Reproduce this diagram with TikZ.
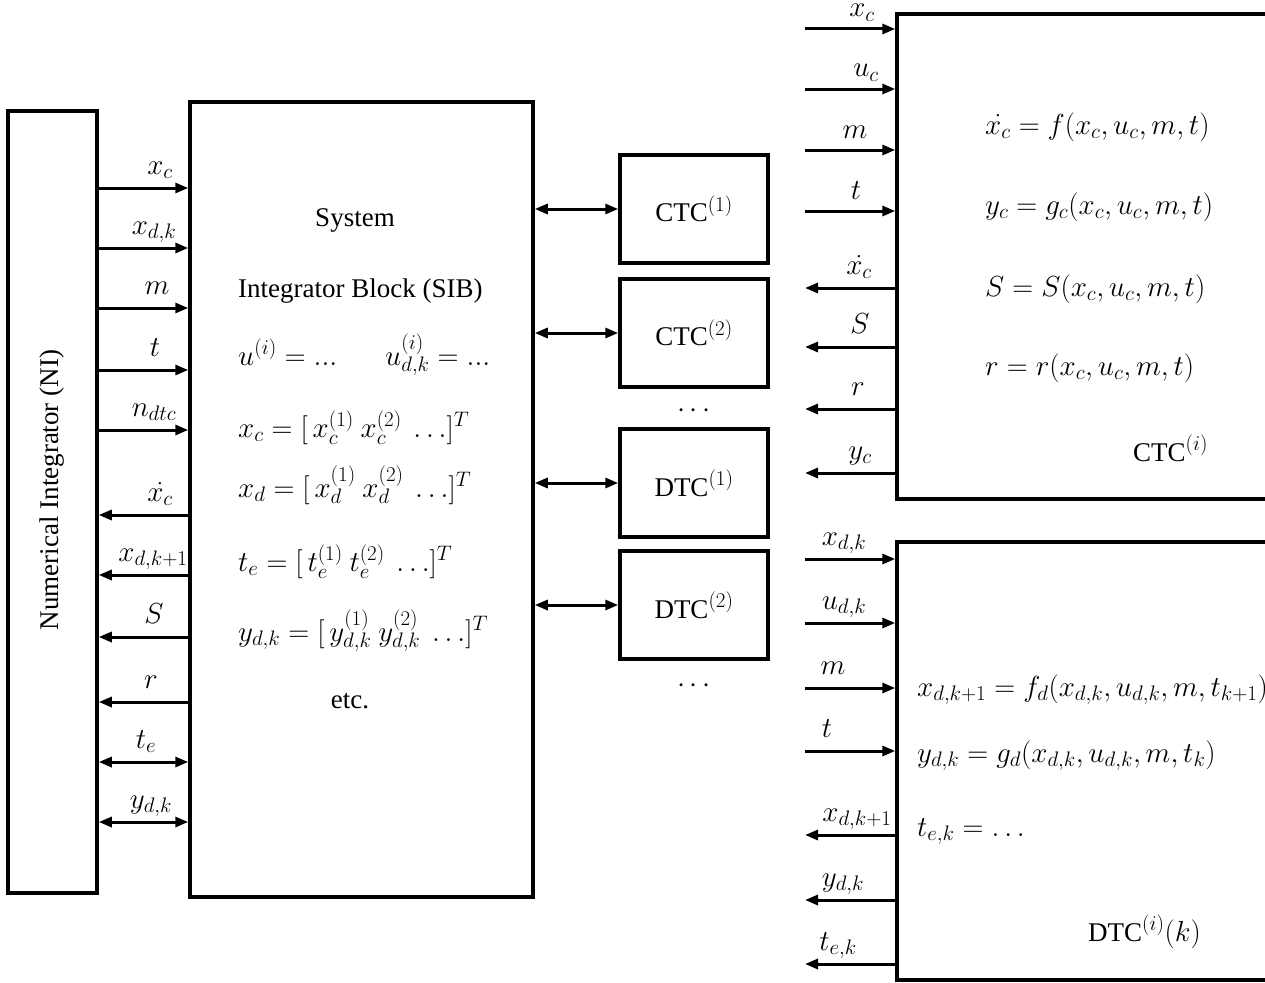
\RequirePackage{fix-cm}
\documentclass[tikz,border=0pt]{standalone}
\usepackage[no-math]{fontspec}
\setmainfont{Liberation Serif}
\DeclareMathSizes{27}{29}{21}{16}
\usetikzlibrary{arrows.meta}
\begin{document}
\begin{tikzpicture}[x=1pt,y=-1pt,
  every node/.style={font=\fontsize{27}{32}\selectfont},
  blk/.style={draw,line width=3.5pt,inner sep=0pt},
  sig/.style={line width=3pt,-{Triangle[length=13pt,width=10pt]}},
  bsig/.style={line width=3pt,{Triangle[length=13pt,width=10pt]}-{Triangle[length=13pt,width=10pt]}},
  lab/.style={anchor=base,inner sep=0pt},
  eq/.style={anchor=base west,inner sep=0pt}]
\useasboundingbox (0,0) rectangle (1265,982);
\clip (0,0) rectangle (1265,982);
% blocks
\node[blk,minimum width=89pt,minimum height=782pt] (ni) at (52.5,502) {};
\node[rotate=90] (nitxt) at (52.5,490) {Numerical Integrator (NI)};
\node[blk,minimum width=343pt,minimum height=795pt] (sib) at (361.5,499.5) {};
\node[blk,minimum width=148pt,minimum height=108pt] (c1) at (694,209) {CTC$^{(1)}$};
\node[blk,minimum width=148pt,minimum height=108pt] (c2) at (694,333) {CTC$^{(2)}$};
\node (dots1) at (694,411) {$\cdots$};
\node[blk,minimum width=148pt,minimum height=108pt] (d1) at (694,483) {DTC$^{(1)}$};
\node[blk,minimum width=148pt,minimum height=108pt] (d2) at (694,605) {DTC$^{(2)}$};
\node (dots2) at (694,686) {$\cdots$};
\node[blk,minimum width=420pt,minimum height=485pt] (rc) at (1107,256.5) {};
\node[blk,minimum width=420pt,minimum height=438pt] (rd) at (1107,761) {};
\coordinate (rin) at (805,0);
% SIB text
\node[lab] (s1) at (355,226) {System};
\node[eq] (s2) at (238,297) {Integrator Block (SIB)};
\node[eq] (s3) at (238,365) {$u^{(i)}=...$};
\node[eq] (s3b) at (385,365) {$u^{(i)}_{d,k}=...$};
\node[eq] (s4) at (238,437) {$x_c=[\,x_c^{(1)}\ x_c^{(2)}\ \ldots]^T$};
\node[eq] (s5) at (238,497) {$x_d=[\,x_d^{(1)}\ x_d^{(2)}\ \ldots]^T$};
\node[eq] (s6) at (238,571) {$t_e=[\,t_e^{(1)}\ t_e^{(2)}\ \ldots]^T$};
\node[eq] (s7) at (238,641) {$y_{d,k}=[\,y_{d,k}^{(1)}\ y_{d,k}^{(2)}\ \ldots]^T$};
\node[lab] (s8) at (350,708) {etc.};
% NI <-> SIB
\foreach \y/\t/\lx in {188/x_c/160,248/x_{d,k}/154,308/m/157,370/t/155,430/n_{dtc}/154}{
  \draw[sig] (ni.east |- 0,\y) -- (sib.west |- 0,\y);
  \node[lab] at (\lx,\y-14) {$\t$};}
\foreach \y/\t/\lx in {515/\dot{x_c}/160,575/x_{d,k+1}/153,637/S/154,702/r/151}{
  \draw[sig] (sib.west |- 0,\y) -- (ni.east |- 0,\y);
  \node[lab] at (\lx,\y-14) {$\t$};}
\foreach \y/\t/\lx in {762/t_e/146,822/y_{d,k}/151}{
  \draw[bsig] (ni.east |- 0,\y) -- (sib.west |- 0,\y);
  \node[lab] at (\lx,\y-14) {$\t$};}
% SIB <-> components
\draw[bsig] (sib.east |- c1.west) -- (c1.west);
\draw[bsig] (sib.east |- c2.west) -- (c2.west);
\draw[bsig] (sib.east |- d1.west) -- (d1.west);
\draw[bsig] (sib.east |- d2.west) -- (d2.west);
% CTC(i)
\foreach \y/\t/\lx in {29/x_c/862,89/u_c/866,150/m/855,211/t/856}{
  \draw[sig] (rin |- 0,\y) -- (rc.west |- 0,\y);
  \node[lab] at (\lx,\y-12) {$\t$};}
\foreach \y/\t/\lx in {288/\dot{x_c}/859,347/S/860,409/r/858,473/y_c/860}{
  \draw[sig] (rc.west |- 0,\y) -- (rin |- 0,\y);
  \node[lab] at (\lx,\y-14) {$\t$};}
\node[eq] (e1) at (985,134) {$\dot{x_c}=f(x_c,u_c,m,t)$};
\node[eq] (e2) at (985,214) {$y_c=g_c(x_c,u_c,m,t)$};
\node[eq] (e3) at (985,296) {$S=S(x_c,u_c,m,t)$};
\node[eq] (e4) at (985,375) {$r=r(x_c,u_c,m,t)$};
\node[eq] (e5) at (1133,461) {CTC$^{(i)}$};
% DTC(i)(k)
\foreach \y/\t/\lx in {559/x_{d,k}/844,623/u_{d,k}/844,688/m/833,751/t/827}{
  \draw[sig] (rin |- 0,\y) -- (rd.west |- 0,\y);
  \node[lab] at (\lx,\y-14) {$\t$};}
\foreach \y/\t/\lx in {835/x_{d,k+1}/857,900/y_{d,k}/843,964/t_{e,k}/838}{
  \draw[sig] (rd.west |- 0,\y) -- (rin |- 0,\y);
  \node[lab] at (\lx,\y-14) {$\t$};}
\node[eq] (f1) at (917,696) {$x_{d,k+1}=f_d(x_{d,k},u_{d,k},m,t_{k+1})$};
\node[eq] (f2) at (917,762) {$y_{d,k}=g_d(x_{d,k},u_{d,k},m,t_k)$};
\node[eq] (f3) at (917,836) {$t_{e,k}=\ldots$};
\node[eq] (f4) at (1088,941) {DTC$^{(i)}(k)$};
\end{tikzpicture}
\end{document}
